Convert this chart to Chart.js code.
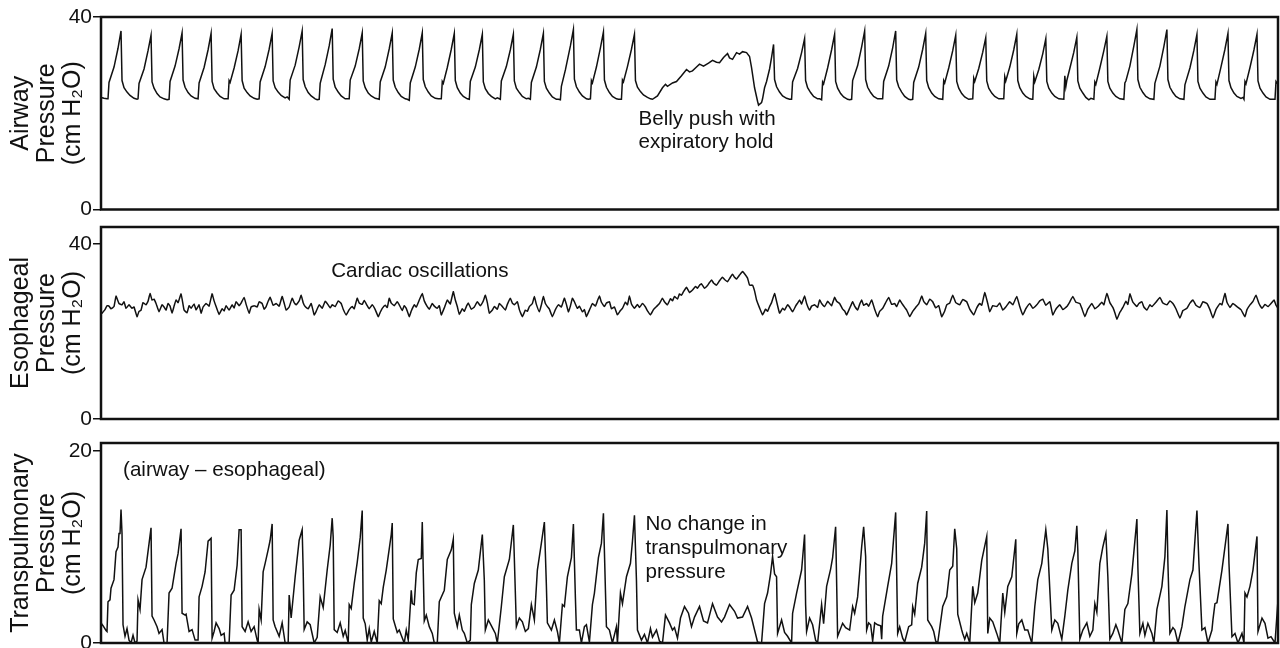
<!DOCTYPE html>
<html><head><meta charset="utf-8">
<script src="https://cdn.jsdelivr.net/npm/chart.js@4.4.0/dist/chart.umd.min.js"></script>
<style>
html,body{margin:0;padding:0;background:#fff;width:1280px;height:648px;overflow:hidden;position:relative;}
canvas{position:absolute;left:0;top:0;}
</style></head><body>
<canvas id="c1" width="1280" height="648"></canvas>
<canvas id="c2" width="1280" height="648"></canvas>
<canvas id="c3" width="1280" height="700"></canvas>
<script>
// time axis: sample index (0..1176), pressure in cm H2O
const timeRange = [0, 1176];
const airwayTicks = [0, 40];
const esoTicks = [0, 40];
const transTicks = [0, 20];
const airwayTitle = ['Airway', 'Pressure', '(cm H\u2082O)'];
const esoTitle = ['Esophageal', 'Pressure', '(cm H\u2082O)'];
const transTitle = ['Transpulmonary', 'Pressure', '(cm H\u2082O)'];

const airway = [
[0,23.3],[3,23.1],[6,23.0],
[7,23.0],[8,26.4],[13,29.6],[17,33.5],[20,37.1],[21,26.8],[23,25.3],[26,24.4],[29,23.7],[33,23.1],[36,22.9],
[37,23.0],[38,26.2],[43,29.2],[47,33.0],[50,36.2],[51,26.5],[53,25.2],[56,24.1],[59,23.4],[63,23.0],[66,22.8],
[68,22.9],[69,26.6],[74,29.8],[78,33.4],[81,36.7],[82,26.9],[84,25.4],[87,24.3],[90,23.6],[94,23.1],
[97,23.0],[98,26.3],[103,29.5],[107,33.2],[110,36.6],[111,26.6],[113,25.1],[116,24.2],[119,23.5],[123,23.0],
[127,23.0],[128,26.8],[129,26.4],[133,29.4],[137,33.0],[140,36.4],[141,26.8],[143,25.2],[146,24.3],[149,23.6],[153,23.1],[156,22.9],
[158,23.0],[159,26.5],[164,29.7],[168,33.3],[171,36.6],[172,26.7],[174,25.3],[177,24.4],[180,23.7],[184,23.2],[186,23.4],
[188,22.9],[189,26.9],[194,30.0],[198,33.8],[201,37.1],[202,27.0],[204,25.5],[207,24.3],[210,23.6],[214,23.0],[216,22.8],
[218,22.9],[219,26.2],[220,27.0],[224,30.1],[228,34.0],[231,37.6],[232,27.1],[234,25.4],[237,24.4],[240,23.6],[244,23.0],[246,23.0],
[248,23.0],[249,26.9],[254,29.8],[258,33.4],[261,36.7],[262,26.7],[264,25.3],[267,24.2],[270,23.6],[274,23.1],[276,23.0],
[278,22.9],[279,26.5],[284,29.6],[288,33.4],[291,36.7],[292,26.9],[294,25.4],[297,24.3],[300,23.5],[304,23.0],[306,22.9],
[308,22.7],[309,26.3],[314,29.6],[318,33.3],[321,36.7],[322,27.0],[324,25.5],[327,24.4],[330,23.6],[334,23.1],[337,23.0],
[340,23.0],[341,26.6],[342,26.2],[346,29.5],[350,33.3],[353,36.6],[354,26.8],[356,25.3],[359,24.2],[362,23.5],[366,23.0],
[368,22.9],[369,26.6],[374,29.6],[378,33.2],[381,36.4],[382,26.5],[384,25.1],[387,24.1],[390,23.5],[394,23.0],[396,23.2],
[399,22.9],[400,26.7],[405,29.7],[409,33.2],[412,36.4],[413,26.7],[415,25.2],[418,24.3],[421,23.5],[425,23.0],[427,23.1],
[429,22.9],[430,26.4],[435,29.6],[439,33.3],[442,36.6],[443,26.6],[445,25.2],[448,24.2],[451,23.4],[455,22.9],[457,22.9],
[459,22.8],[460,25.6],[464,29.0],[469,34.0],[472,37.4],[473,27.1],[475,25.5],[478,24.4],[481,23.6],[485,23.0],[487,22.9],
[489,23.0],[490,26.8],[491,26.3],[495,29.6],[499,33.6],[502,36.9],[503,26.9],[505,25.4],[508,24.3],[511,23.5],[515,23.0],[517,22.9],
[520,22.9],[521,26.9],[522,26.5],[526,29.7],[530,33.3],[533,36.4],[534,26.8],[536,25.4],[539,24.5],[542,23.8],[546,23.3],[549,23.0],
[551,22.9],[556,23.6],[561,25.3],[564,26.0],[566,25.6],[571,26.3],[575,26.6],[580,27.8],[585,29.1],[588,28.6],[591,28.8],[595,29.6],
[598,30.2],[602,29.8],[607,30.4],[611,31.0],[615,30.6],[618,30.5],[622,31.6],[626,32.4],[628,31.5],[631,31.2],[635,32.6],[638,32.3],
[641,32.8],[645,32.6],[648,31.8],[650,29.5],[653,25.3],[656,22.5],[657,21.7],[660,22.2],[661,23.0],[663,25.3],
[665,26.6],[668,29.2],[670,31.6],[672,34.3],[673,27.0],[675,25.5],[678,24.4],[681,23.6],[685,23.1],[688,22.9],
[690,22.9],[691,26.5],[696,29.3],[700,32.6],[703,35.5],[704,26.8],[706,25.3],[709,24.3],[712,23.5],[716,23.0],[718,23.0],
[720,22.8],[721,26.5],[722,26.1],[726,29.4],[730,33.2],[733,36.4],[734,26.6],[736,25.2],[739,24.1],[742,23.4],[746,22.9],[748,22.8],
[750,22.9],[751,26.8],[756,29.9],[760,33.8],[763,37.1],[764,27.0],[766,25.4],[769,24.3],[772,23.5],[776,23.0],
[781,23.0],[782,26.6],[787,29.8],[791,33.6],[794,37.1],[795,26.9],[797,25.5],[800,24.4],[803,23.5],[807,22.9],[809,22.8],
[811,22.9],[812,26.4],[817,29.6],[821,33.3],[824,36.6],[825,26.8],[827,25.3],[830,24.2],[833,23.5],[837,23.0],
[841,22.9],[842,26.8],[843,26.3],[847,29.4],[851,33.0],[854,36.2],[855,26.6],[857,25.2],[860,24.1],[863,23.4],[867,22.9],
[871,23.0],[872,27.3],[873,26.6],[877,29.3],[881,32.7],[884,35.7],[885,26.7],[887,25.2],[890,24.2],[893,23.5],[897,23.0],
[902,23.0],[903,27.6],[904,26.7],[908,29.6],[912,33.2],[915,36.4],[916,26.8],[918,25.3],[921,24.2],[924,23.5],[928,23.0],[930,22.9],
[931,22.9],[932,27.7],[933,26.5],[937,29.1],[941,32.4],[944,35.5],[945,26.6],[947,25.2],[950,24.2],[953,23.5],[957,23.0],
[962,22.9],[963,27.8],[964,25.5],[965,26.8],[968,29.3],[972,32.7],[975,35.8],[976,26.7],[978,25.2],[981,24.2],[984,23.3],[987,22.8],[989,23.1],
[992,22.9],[993,26.5],[994,26.0],[998,29.4],[1002,33.0],[1005,36.0],[1006,26.6],[1008,25.2],[1011,24.2],[1014,23.5],[1018,23.0],
[1022,22.9],[1023,26.3],[1024,26.7],[1028,29.8],[1032,34.0],[1035,37.4],[1036,27.0],[1038,25.4],[1041,24.3],[1044,23.5],[1048,23.0],
[1052,22.9],[1053,26.2],[1058,29.8],[1062,33.9],[1065,37.4],[1066,27.0],[1068,25.4],[1071,24.3],[1074,23.5],[1078,23.0],
[1082,22.9],[1083,25.9],[1088,29.4],[1092,33.1],[1095,36.4],[1096,26.6],[1098,25.2],[1101,24.2],[1104,23.4],[1108,22.9],
[1113,22.9],[1114,26.5],[1115,26.0],[1119,29.6],[1123,33.3],[1126,36.6],[1127,26.8],[1129,25.3],[1132,24.2],[1135,23.5],[1139,23.1],[1141,23.3],
[1142,22.9],[1143,26.6],[1144,26.1],[1148,29.5],[1152,33.2],[1155,36.4],[1156,26.7],[1158,25.2],[1161,24.2],[1164,23.4],[1168,22.9],[1172,22.9],
[1173,22.9],[1174,26.6],[1176,26.0]
];

const esophageal = [
[0,24.0],[1,24.2],[4,25.0],[6,25.9],[8,25.8],[10,25.2],[13,25.7],[15,28.1],[18,26.4],[21,26.1],[23,26.8],[25,25.3],[28,26.1],[31,25.3],[33,25.6],
[36,23.4],[38,24.6],[40,24.9],[42,26.6],[45,26.1],[47,26.9],[49,28.7],[51,27.2],[53,27.4],[55,26.4],[58,24.5],[61,26.1],[63,25.6],[65,24.9],
[67,26.4],[69,25.8],[71,24.2],[73,25.8],[75,27.2],[77,26.6],[80,28.6],[83,24.9],[86,24.3],[88,25.9],[90,25.3],[93,26.3],[95,24.9],[98,26.1],
[100,24.2],[102,25.6],[105,26.4],[108,25.8],[111,28.6],[113,27.0],[115,25.7],[118,23.9],[121,25.2],[123,24.7],[125,25.9],[128,24.9],[131,26.1],
[133,25.4],[135,26.8],[138,25.9],[140,26.5],[143,27.8],[145,26.2],[148,24.2],[150,25.6],[153,25.9],[156,25.6],[158,26.8],[161,26.4],[163,25.1],
[165,25.7],[167,26.9],[169,27.8],[172,26.0],[175,26.4],[178,25.8],[181,28.0],[183,26.5],[185,24.9],[188,25.6],[191,27.6],[193,26.6],[195,26.1],
[198,27.0],[200,28.3],[202,26.6],[204,25.7],[207,25.2],[210,26.4],[213,23.8],[215,24.6],[218,26.1],[221,25.3],[224,26.9],[226,26.4],[229,25.4],
[231,26.1],[234,25.7],[237,27.0],[240,26.4],[242,25.1],[245,23.8],[248,25.0],[251,25.7],[253,25.2],[256,27.6],[258,26.5],[261,26.2],[263,27.1],
[266,25.9],[268,25.2],[271,26.1],[274,25.0],[277,23.4],[279,24.4],[281,25.3],[284,26.0],[286,25.5],[288,27.6],[290,26.5],[293,25.9],[296,26.8],
[298,26.1],[301,24.8],[303,25.9],[305,25.3],[308,23.4],[310,24.7],[313,26.1],[315,25.6],[318,27.2],[321,28.7],[323,27.0],[326,25.7],[328,25.1],
[331,26.4],[333,25.8],[336,25.3],[338,25.9],[340,23.8],[343,25.4],[346,27.2],[349,26.3],[352,29.1],[354,27.2],[356,25.7],[358,23.9],[361,25.2],
[363,24.6],[365,25.7],[367,26.5],[370,25.1],[373,25.6],[376,26.8],[379,25.9],[382,27.0],[384,28.3],[386,26.6],[388,24.2],[391,24.9],[393,25.7],
[396,25.1],[398,26.4],[401,25.7],[404,24.9],[406,26.2],[409,27.6],[411,26.5],[413,26.1],[416,26.8],[418,25.0],[421,23.4],[424,24.9],[426,24.6],
[428,25.7],[431,26.4],[433,28.0],[435,26.2],[438,24.5],[440,26.1],[442,28.0],[444,26.4],[446,25.7],[448,25.1],[451,23.4],[454,25.0],[457,26.1],
[460,25.6],[463,27.6],[465,26.2],[467,24.5],[469,25.8],[471,27.6],[473,26.8],[476,25.3],[478,25.8],[481,24.5],[483,25.0],[485,23.4],[488,24.9],
[491,26.4],[494,25.8],[496,27.0],[498,28.1],[500,26.7],[503,25.7],[505,26.5],[508,26.8],[510,25.2],[513,25.6],[516,23.8],[519,24.8],[521,25.3],
[524,26.7],[526,26.1],[528,28.1],[530,26.3],[533,25.3],[536,26.2],[538,25.5],[541,26.4],[544,25.6],[546,24.7],[549,23.8],[552,25.0],[555,25.7],
[558,26.4],[561,27.6],[563,26.8],[566,26.1],[569,27.5],[571,27.0],[573,28.0],[576,27.4],[578,28.6],[580,28.3],[582,29.1],[585,30.1],[588,28.9],
[591,29.5],[594,30.3],[596,29.9],[598,30.6],[600,30.9],[603,29.9],[606,30.5],[608,31.2],[610,31.8],[612,31.1],[615,30.6],[618,31.6],[621,32.4],
[623,31.9],[626,31.4],[628,32.1],[631,33.1],[633,32.4],[635,32.0],[638,32.9],[641,33.7],[643,33.2],[646,32.2],[648,30.6],[651,30.6],[653,29.3],
[655,27.2],[658,25.4],[661,23.8],[664,25.1],[666,24.6],[668,25.7],[670,26.6],[673,28.7],[675,26.9],[678,24.2],[681,25.3],[683,24.9],[686,26.1],
[688,25.6],[691,24.5],[694,25.8],[696,26.5],[698,27.2],[700,26.3],[703,28.1],[705,26.4],[708,24.9],[710,25.8],[713,26.1],[716,25.5],[718,27.2],
[720,26.4],[723,25.7],[726,26.9],[728,26.4],[730,25.9],[733,27.8],[735,26.9],[738,26.4],[741,25.1],[743,24.7],[745,23.8],[748,25.3],[751,26.8],
[753,25.8],[756,24.9],[758,26.2],[760,27.2],[762,26.0],[765,26.4],[767,25.8],[770,27.2],[773,25.1],[776,23.4],[778,24.6],[781,25.3],[784,26.6],
[787,27.8],[790,26.2],[793,26.4],[795,25.7],[798,27.2],[800,26.5],[803,25.5],[805,24.9],[808,23.4],[811,24.6],[814,25.5],[817,26.3],[820,28.1],
[822,26.9],[825,26.1],[828,27.4],[831,26.8],[834,25.4],[837,25.9],[840,23.4],[843,24.7],[845,26.1],[848,26.5],[851,28.3],[854,26.6],[858,26.1],
[861,27.3],[865,26.8],[868,25.1],[872,23.8],[875,25.4],[878,26.4],[880,26.0],[883,28.9],[886,26.4],[888,24.5],[891,25.9],[895,25.7],[898,26.5],
[901,24.9],[904,25.6],[908,26.8],[911,26.1],[915,28.0],[918,25.7],[921,23.8],[924,25.2],[928,26.4],[931,25.3],[935,26.1],[938,27.0],[941,27.4],
[944,26.0],[948,26.8],[951,23.8],[954,25.1],[958,26.1],[961,25.0],[965,25.7],[968,26.8],[971,28.0],[974,26.7],[978,26.4],[980,25.3],[983,23.4],
[986,25.1],[990,26.4],[993,25.2],[996,25.7],[1000,26.7],[1002,26.1],[1005,28.7],[1008,26.6],[1011,25.5],[1013,24.3],[1015,22.8],[1018,24.4],
[1021,25.5],[1024,26.9],[1026,26.2],[1028,28.6],[1031,26.7],[1035,25.7],[1037,26.4],[1040,26.8],[1042,25.6],[1045,24.9],[1048,26.1],[1050,25.7],
[1054,26.7],[1058,27.8],[1061,26.5],[1065,26.1],[1068,27.0],[1071,26.4],[1074,25.2],[1078,23.1],[1081,24.8],[1085,25.3],[1088,26.5],[1091,27.2],
[1094,26.0],[1098,25.5],[1101,26.8],[1105,26.4],[1108,25.0],[1111,23.1],[1114,25.0],[1118,26.4],[1120,26.1],[1123,28.7],[1125,26.7],[1128,25.5],
[1131,26.4],[1135,25.7],[1139,25.0],[1143,23.4],[1145,25.0],[1148,26.1],[1151,26.9],[1154,28.3],[1157,26.4],[1160,25.3],[1163,26.2],[1166,25.7],
[1169,26.4],[1172,27.2],[1174,26.0],[1176,25.3]
];

const transpulmonary = [
[0,2.1],[2,1.8],[5,1.3],[6,1.2],[7,4.3],[9,4.5],[10,5.7],[13,6.6],[15,9.5],[17,10.0],[18,11.4],[19,11.4],[20,13.9],[21,11.4],[22,1.9],[24,0.7],[26,1.5],[28,0.3],[30,0],[32,0.8],[34,0],
[36,0.2],[37,4.5],[39,3.5],[41,6.6],[45,7.9],[50,12.0],[51,2.8],[53,2.4],[56,1.7],[58,1.0],[61,1.4],[63,0],[66,0],
[68,5.2],[71,5.7],[75,8.3],[77,9.3],[80,11.9],[81,3.1],[84,2.9],[85,3.0],[88,1.2],[91,1.4],[94,0.3],[97,0.3],
[98,4.8],[101,5.9],[104,7.4],[107,10.6],[110,10.9],[111,0.5],[113,1.2],[115,2.1],[118,1.5],[120,0.8],[123,1.0],[124,0],[128,0],
[130,5.0],[133,5.5],[136,8.1],[138,11.8],[140,11.8],[141,1.7],[144,1.2],[147,2.2],[150,1.2],[153,1.7],[156,0.3],[157,0],
[158,3.5],[160,2.4],[162,7.4],[164,8.3],[167,9.7],[169,10.7],[171,12.4],[172,2.4],[174,1.7],[178,0.7],[181,2.1],[184,0],[187,0],
[188,5.0],[190,2.6],[194,6.9],[198,10.7],[201,11.8],[202,7.6],[203,1.4],[206,2.2],[209,1.9],[213,0],[216,0.6],
[219,4.8],[222,3.7],[226,7.6],[229,10.2],[231,13.0],[232,11.0],[233,1.4],[236,1.1],[239,2.1],[242,0.7],[244,1.3],[247,0],
[248,4.0],[250,3.6],[253,6.2],[256,8.4],[259,11.0],[261,13.8],[262,2.6],[264,2.0],[266,0.3],[268,1.5],[270,0.1],[273,1.2],[276,0],
[278,4.4],[280,4.1],[282,5.8],[285,7.6],[288,9.8],[290,11.3],[291,12.5],[292,2.5],[294,1.8],[296,1.1],[298,1.35],[300,0.8],[303,0],[305,1.35],[307,0.3],
[310,5.5],[311,4.1],[313,4.0],[315,7.3],[317,8.7],[320,8.8],[321,12.6],[323,2.3],[325,2.9],[328,1.7],[331,1.0],[333,0],[336,0],
[338,4.3],[343,5.5],[346,8.7],[350,9.7],[352,10.8],[353,3.1],[356,1.7],[358,2.9],[361,1.35],[363,1.0],[366,0],[369,0.3],
[370,4.0],[373,6.2],[377,7.6],[381,11.3],[383,6.5],[384,1.35],[387,2.4],[391,1.6],[394,1.0],[396,0],
[400,3.8],[403,6.9],[408,8.7],[412,12.3],[415,1.7],[418,2.6],[421,2.2],[424,1.2],[427,1.5],
[430,4.0],[433,2.4],[436,7.6],[440,10.4],[443,12.6],[445,6.0],[446,2.1],[450,1.35],[453,2.4],[456,1.2],[458,0],
[461,4.0],[463,3.8],[466,6.9],[470,8.9],[472,12.4],[474,4.7],[475,1.35],[478,1.35],[480,0],[483,1.7],[485,1.9],[488,0.1],
[491,4.0],[493,5.2],[497,8.9],[500,10.4],[502,13.5],[504,5.5],[505,1.7],[508,1.35],[511,0],[515,1.7],[516,0],
[519,5.2],[521,4.1],[525,6.9],[529,8.3],[531,10.6],[533,13.3],[535,6.5],[536,1.35],
[540,0.3],[543,0.9],[546,0],[549,1.5],[551,0.6],[555,1.35],[558,0.2],[561,0],[564,2.9],[568,2.1],[571,1.35],[573,1.6],[576,0.5],[579,2.6],
[583,3.8],[587,3.1],[590,1.7],[593,2.7],[598,3.8],[602,2.3],[606,2.1],[611,4.1],[616,2.7],[620,2.2],[623,2.7],[628,4.0],[633,3.3],[636,2.6],
[641,2.7],[646,3.8],[650,2.6],[653,1.35],[656,0.1],[660,0],
[663,4.1],[666,5.2],[669,7.2],[671,9.0],[673,7.2],[675,6.9],[676,1.0],[680,2.4],[683,1.1],[686,0.7],[690,0],
[691,3.1],[695,5.2],[700,7.6],[703,11.3],[704,4.0],[705,1.2],[708,2.6],[711,1.9],[714,0.3],[716,0],
[720,4.0],[722,2.0],[725,5.9],[729,7.7],[731,8.9],[734,12.1],[736,0.7],[741,2.05],[744,1.6],[748,1.35],
[751,3.8],[753,3.1],[756,4.8],[760,10.0],[762,12.1],[764,9.0],[765,1.35],[767,2.1],[769,1.9],[771,0.2],[773,2.1],[776,1.9],[779,1.8],[780,0.4],
[781,2.8],[786,5.9],[790,8.3],[794,13.6],[796,1.0],[798,1.7],[801,0.5],[803,0.1],[807,1.7],[810,1.9],
[811,3.8],[813,3.0],[816,6.2],[820,7.9],[823,10.4],[825,13.75],[826,2.4],[828,2.05],[830,1.7],[832,1.2],[834,0.2],[836,0],
[841,3.8],[845,4.8],[848,7.6],[851,8.0],[853,11.9],[855,9.8],[856,3.0],[860,1.35],[861,1.0],[863,0.4],[865,1.0],[868,0],
[871,5.9],[873,4.2],[876,5.2],[880,8.6],[885,11.1],[886,1.0],[888,2.6],[891,2.2],[895,1.0],[898,0],
[901,5.2],[903,3.2],[906,5.9],[910,6.9],[914,10.8],[915,1.0],[917,2.0],[920,2.4],[923,1.35],[926,1.35],[930,0],
[933,3.8],[936,6.6],[940,8.3],[944,11.8],[946,9.8],[950,1.35],[953,2.4],[956,2.05],[960,0.4],
[963,2.8],[966,5.5],[970,8.3],[973,9.6],[975,12.2],[976,9.6],[978,0.4],[981,1.35],[985,2.1],[988,0.7],[991,1.35],
[993,4.1],[995,3.2],[998,8.3],[1001,10.0],[1004,11.35],[1006,6.9],[1008,0.4],[1011,1.0],[1014,1.9],[1016,1.35],[1020,0],
[1023,3.5],[1026,4.1],[1030,7.2],[1035,12.9],[1036,7.9],[1038,1.0],[1041,2.05],[1043,0.8],[1046,2.05],[1050,1.0],[1052,0],
[1055,3.5],[1060,5.9],[1063,9.0],[1065,13.85],[1066,8.3],[1068,1.0],[1071,1.6],[1073,1.35],[1076,0],
[1080,1.7],[1081,2.4],[1083,3.8],[1088,6.6],[1091,7.6],[1095,13.8],[1097,8.3],[1100,1.35],[1103,1.6],[1106,0],
[1110,1.35],[1111,2.4],[1113,4.1],[1115,4.2],[1120,7.6],[1126,12.4],[1127,8.3],[1130,0.66],[1133,1.0],[1136,0],[1140,1.0],[1142,0],
[1143,5.2],[1145,4.8],[1148,5.9],[1151,7.6],[1155,11.1],[1156,1.2],[1160,2.6],[1163,2.05],[1166,0.5],[1169,0.66],[1173,0],[1176,4.5]
];

const FONT = "'Liberation Sans', Arial, Helvetica, sans-serif";
const INK = '#111111';

function makePanel(id, cfg) {
  const boxPlugin = {
    id: 'box_' + id,
    afterDatasetsDraw(chart) {
      const ctx = chart.ctx, a = chart.chartArea;
      ctx.save();
      ctx.strokeStyle = INK;
      ctx.lineWidth = 2.5;
      ctx.strokeRect(a.left, a.top, a.right - a.left, a.bottom - a.top);
      ctx.fillStyle = INK;
      ctx.font = '20.6px ' + FONT;
      ctx.textAlign = 'left';
      ctx.textBaseline = 'alphabetic';
      const xs = chart.scales.x, ys = chart.scales.y;
      cfg.notes.forEach(n => {
        const x0 = xs.getPixelForValue(n.x), y0 = ys.getPixelForValue(n.y);
        n.lines.forEach((line, i) => ctx.fillText(line, x0, y0 + i * n.lh));
      });
      ctx.restore();
    }
  };
  return new Chart(document.getElementById(id), {
    type: 'line',
    data: { datasets: [{
      data: cfg.points.map(p => ({ x: p[0], y: p[1] })),
      borderColor: INK, borderWidth: 1.5, pointRadius: 0, tension: cfg.tension, fill: false
    }] },
    options: {
      responsive: false, animation: false, events: [],
      layout: { padding: { top: cfg.top, bottom: cfg.bottom, left: 0, right: 2 } },
      plugins: { legend: { display: false }, tooltip: { enabled: false }, title: { display: false } },
      scales: {
        x: { type: 'linear', display: false, min: timeRange[0], max: timeRange[1] },
        y: {
          type: 'linear', min: 0, max: cfg.max,
          afterBuildTicks: s => { s.ticks = cfg.ticks.map(v => ({ value: v })); },
          afterFit: s => { s.width = 101; },
          border: { display: false },
          grid: { drawOnChartArea: false, drawTicks: true, tickLength: 8, color: INK, lineWidth: 1.5 },
          ticks: { padding: 1, color: INK, font: { family: FONT, size: 21 } },
          title: { display: true, text: cfg.title, color: INK,
                   font: { family: FONT, size: 25, lineHeight: 1.04 }, padding: { top: 8, bottom: 0 } }
        }
      }
    },
    plugins: [boxPlugin]
  });
}

makePanel('c1', { points: airway, ticks: airwayTicks, title: airwayTitle, max: 40, top: 17, bottom: 648 - 209.5, tension: 0,
  notes: [{ x: 537, y: 17.56, lh: 23.3, lines: ['Belly push with', 'expiratory hold'] }] });
makePanel('c2', { points: esophageal, ticks: esoTicks, title: esoTitle, max: 43.89, top: 227, bottom: 648 - 419, tension: 0.1,
  notes: [{ x: 230, y: 32.4, lh: 24, lines: ['Cardiac oscillations'] }] });
makePanel('c3', { points: transpulmonary, ticks: transTicks, title: transTitle, max: 20.83, top: 443, bottom: 700 - 643, tension: 0,
  notes: [{ x: 22, y: 17.43, lh: 24, lines: ['(airway \u2013 esophageal)'] },
          { x: 544, y: 11.77, lh: 24.2, lines: ['No change in', 'transpulmonary', 'pressure'] }] });
</script>
</body></html>
